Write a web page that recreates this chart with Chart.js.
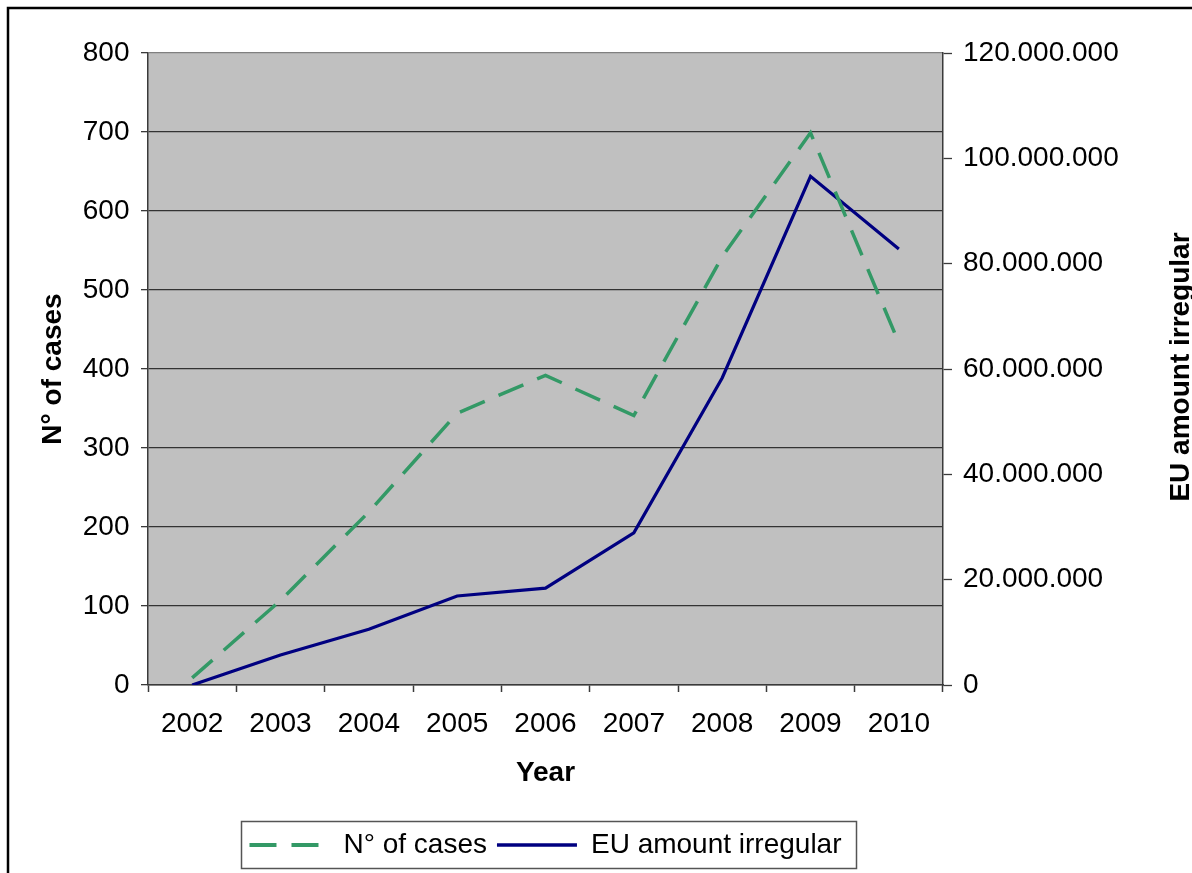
<!DOCTYPE html>
<html>
<head>
<meta charset="utf-8">
<script src="https://cdn.jsdelivr.net/npm/chart.js@4"></script>
<style>
  html, body { margin: 0; padding: 0; background: #ffffff; }
  #wrap { width: 1192px; height: 873px; position: relative; }
</style>
</head>
<body>
<div id="wrap"><canvas id="c" width="1192" height="873"></canvas></div>
<script>
const years = ['2002', '2003', '2004', '2005', '2006', '2007', '2008', '2009', '2010'];
const casesValues = [9, 107, 219, 344, 392, 341, 542, 699, 433];
const amountValues = [0, 5700000, 10600000, 16900000, 18400000, 28900000, 58300000, 96600000, 82800000];
const leftTitle = 'N° of cases';
const rightTitle = 'EU amount irregular';
const xTitle = 'Year';
const casesLabel = 'N° of cases';
const amountLabel = 'EU amount irregular';

const FONT = "'Liberation Sans', Arial, sans-serif";
const AXIS_DARK = '#3a3a3a';

function fmtDots(v) {
  return Math.round(v).toString().replace(/\B(?=(\d{3})+(?!\d))/g, '.');
}

const framePlugin = {
  id: 'frame',
  beforeDraw(chart) {
    const ctx = chart.ctx;
    const a = chart.chartArea;
    ctx.save();
    ctx.fillStyle = '#ffffff';
    ctx.fillRect(0, 0, chart.width, chart.height);
    ctx.strokeStyle = '#000000';
    ctx.lineWidth = 2.5;
    ctx.strokeRect(8, 8, chart.width + 20, chart.height + 20);
    ctx.fillStyle = '#c0c0c0';
    ctx.fillRect(a.left, a.top, a.right - a.left, a.bottom - a.top);
    ctx.restore();
  },
  afterDraw(chart) {
    const ctx = chart.ctx;
    const a = chart.chartArea;
    const lg = chart.legend;
    if (lg && lg.legendHitBoxes && lg.legendHitBoxes.length) {
      const hb = lg.legendHitBoxes;
      const first = hb[0], last = hb[hb.length - 1];
      const x0 = first.left - 8;
      const x1 = last.left + last.width + 15;
      ctx.save();
      ctx.strokeStyle = '#555555';
      ctx.lineWidth = 1.5;
      ctx.strokeRect(Math.round(x0) + 0.5, Math.round(lg.top) + 0.5, Math.round(x1 - x0), Math.round(lg.bottom - lg.top) - 1);
      ctx.restore();
    }
    ctx.save();
    ctx.translate(1181.5, (a.top + a.bottom) / 2 - 2);
    ctx.rotate(-Math.PI / 2);
    ctx.font = 'bold 28px ' + FONT;
    ctx.fillStyle = '#000000';
    ctx.textAlign = 'center';
    ctx.textBaseline = 'middle';
    ctx.fillText(rightTitle, 0, 0);
    ctx.restore();
  }
};

new Chart(document.getElementById('c'), {
  type: 'line',
  data: {
    labels: years,
    datasets: [
      {
        label: casesLabel,
        data: casesValues,
        yAxisID: 'y',
        borderColor: '#339966',
        backgroundColor: '#339966',
        borderWidth: 3.5,
        borderDash: [27, 15],
        pointRadius: 0,
        pointHoverRadius: 0,
        tension: 0,
        fill: false
      },
      {
        label: amountLabel,
        data: amountValues,
        yAxisID: 'y1',
        borderColor: '#000080',
        backgroundColor: '#000080',
        borderWidth: 3.2,
        pointRadius: 0,
        pointHoverRadius: 0,
        tension: 0,
        fill: false
      }
    ]
  },
  options: {
    responsive: false,
    animation: false,
    devicePixelRatio: 1,
    layout: { padding: { left: 0, right: 0, top: 53, bottom: 4 } },
    plugins: {
      tooltip: { enabled: false },
      title: { display: false },
      legend: {
        display: true,
        position: 'bottom',
        fullSize: false,
        labels: {
          usePointStyle: true,
          pointStyle: 'line',
          pointStyleWidth: 80,
          boxWidth: 80,
          boxHeight: 28,
          padding: 10,
          color: '#000000',
          font: { family: FONT, size: 28 },
          generateLabels(chart) {
            const items = Chart.defaults.plugins.legend.labels.generateLabels(chart);
            items.forEach((it) => {
              const ds = chart.data.datasets[it.datasetIndex];
              it.lineDash = ds.borderDash || [];
              it.lineWidth = ds.borderWidth + 0.5;
              it.strokeStyle = ds.borderColor;
              it.fillStyle = ds.borderColor;
            });
            return items;
          }
        }
      }
    },
    scales: {
      x: {
        type: 'category',
        offset: true,
        afterFit(s) { s.height = 136; },
        grid: {
          offset: true,
          drawOnChartArea: false,
          drawTicks: true,
          tickLength: 7,
          tickColor: AXIS_DARK,
          tickWidth: 1.5
        },
        border: { display: true, color: AXIS_DARK, width: 1.5 },
        ticks: {
          color: '#000000',
          padding: 15,
          maxRotation: 0,
          autoSkip: false,
          font: { family: FONT, size: 28 }
        },
        title: {
          display: true,
          text: xTitle,
          color: '#000000',
          padding: { top: 0, bottom: 30.6 },
          font: { family: FONT, size: 28, weight: 'bold' }
        }
      },
      y: {
        type: 'linear',
        position: 'left',
        min: 0,
        max: 800,
        afterFit(s) { s.width = 148; },
        grid: {
          drawOnChartArea: true,
          drawTicks: true,
          tickLength: 7,
          color: (c) => (c.tick && c.tick.value === 800) ? '#808080' : '#333333',
          lineWidth: 1.3,
          tickColor: AXIS_DARK,
          tickWidth: 1.3
        },
        border: { display: true, color: AXIS_DARK, width: 1.5 },
        ticks: {
          stepSize: 100,
          color: '#000000',
          padding: 11.5,
          font: { family: FONT, size: 28 }
        },
        title: {
          display: true,
          text: leftTitle,
          color: '#000000',
          padding: { top: 36.5, bottom: 0 },
          font: { family: FONT, size: 28, weight: 'bold' }
        }
      },
      y1: {
        type: 'linear',
        position: 'right',
        min: 0,
        max: 120000000,
        afterFit(s) { s.width = 249; },
        grid: {
          drawOnChartArea: false,
          drawTicks: true,
          tickLength: 9,
          tickColor: AXIS_DARK,
          tickWidth: 1.3
        },
        border: { display: true, color: AXIS_DARK, width: 1.5 },
        ticks: {
          stepSize: 20000000,
          color: '#000000',
          padding: 11,
          font: { family: FONT, size: 28 },
          callback: (v) => fmtDots(v)
        },
        title: { display: false }
      }
    }
  },
  plugins: [framePlugin]
});
</script>
</body>
</html>
